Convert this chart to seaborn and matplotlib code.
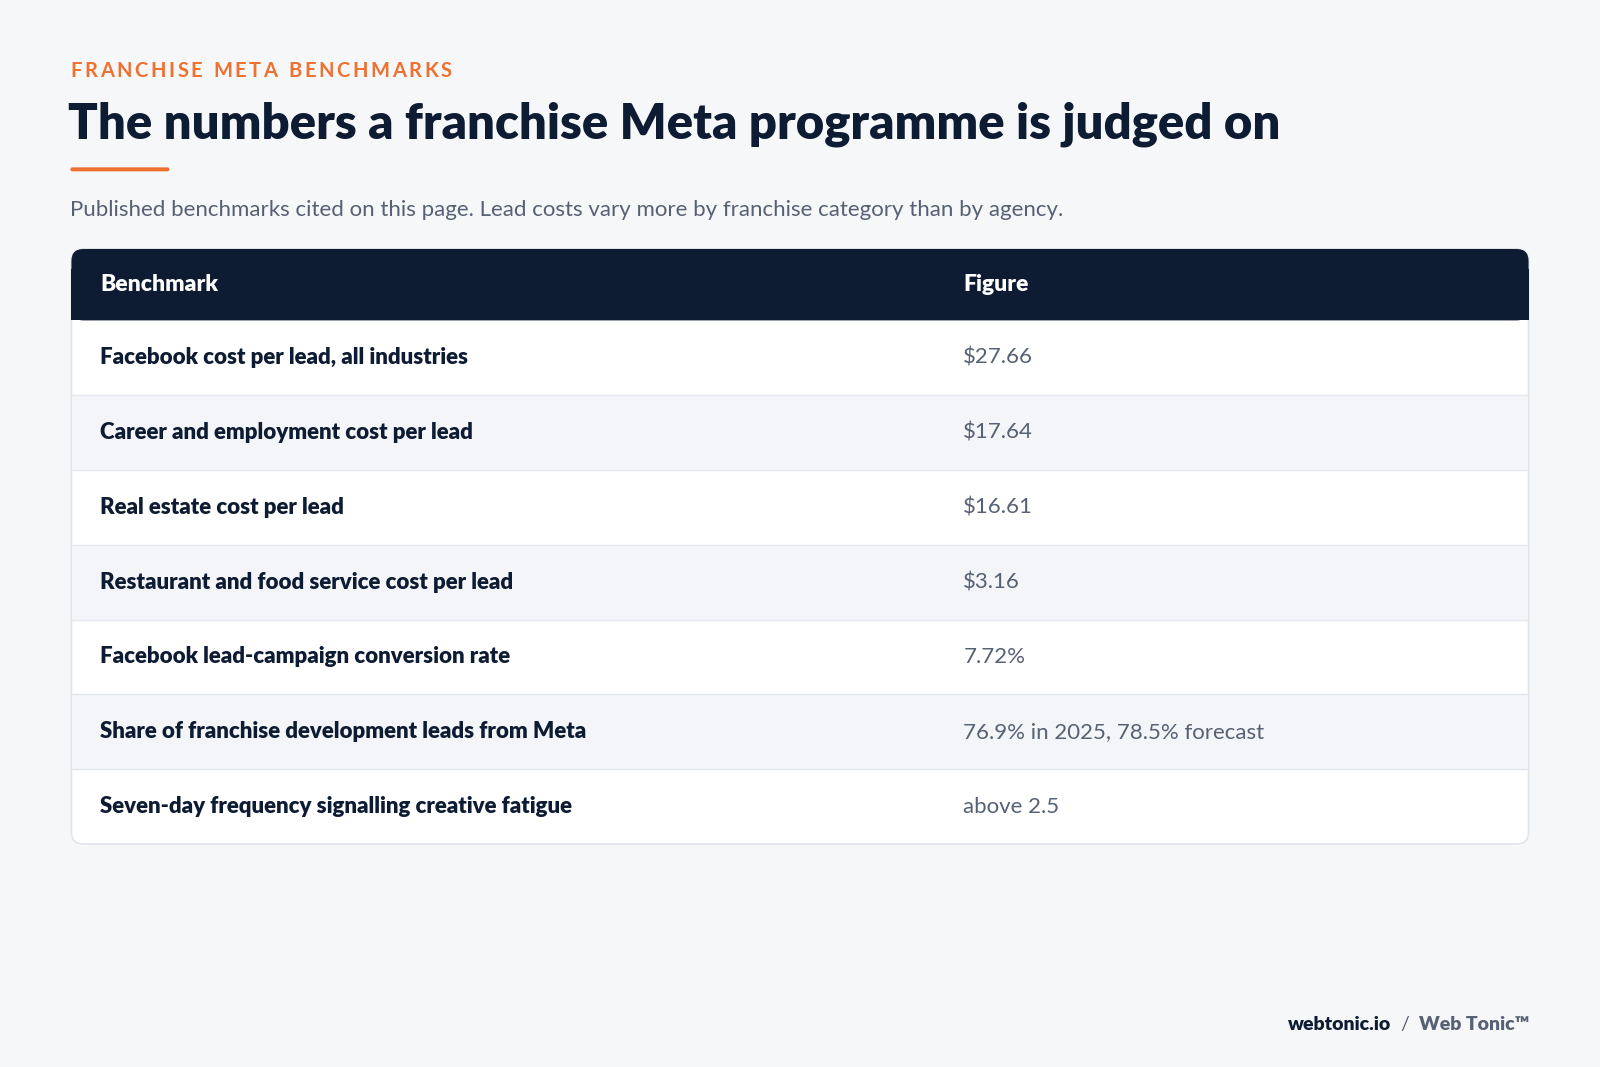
import matplotlib
matplotlib.use("Agg")
import matplotlib.pyplot as plt
import seaborn as sns
from matplotlib.patches import FancyBboxPatch, Rectangle

sns.set_theme(style="white")
plt.rcParams['font.family'] = ['Lato', 'DejaVu Sans']

kicker = "FRANCHISE META BENCHMARKS"
title = "The numbers a franchise Meta programme is judged on"
subtitle = "Published benchmarks cited on this page. Lead costs vary more by franchise category than by agency."
columns = ["Benchmark", "Figure"]
benchmarks = [
    "Facebook cost per lead, all industries",
    "Career and employment cost per lead",
    "Real estate cost per lead",
    "Restaurant and food service cost per lead",
    "Facebook lead-campaign conversion rate",
    "Share of franchise development leads from Meta",
    "Seven-day frequency signalling creative fatigue",
]
figures = ["$27.66", "$17.64", "$16.61", "$3.16", "7.72%", "76.9% in 2025, 78.5% forecast", "above 2.5"]

bg = "#f6f7f9"
navy = "#0d1b33"
orange = "#f07030"
grey = "#566173"
s = 1600 / 1568  # layout measured on a scaled view

fig = plt.figure(figsize=(16, 10.67), dpi=100, facecolor=bg)
ax = fig.add_axes([0, 0, 1, 1])
ax.set_xlim(0, 1600)
ax.set_ylim(1067, 0)
ax.axis("off")
ax.set_facecolor(bg)

# kicker with letter spacing
renderer = fig.canvas.get_renderer()
inv = ax.transData.inverted()
x = 69 * s
for ch in kicker:
    t = ax.text(x, 70 * s, ch, color=orange, fontsize=14.5, fontweight="bold", va="center")
    bb = t.get_window_extent(renderer)
    w = inv.transform((bb.x1, 0))[0] - inv.transform((bb.x0, 0))[0]
    if ch == " ":
        w = 5.5
    x += w + 2.6

ax.text(67 * s, 122 * s, title, color=navy, fontsize=35.3, fontweight="heavy", va="center")
ax.add_patch(FancyBboxPatch((69 * s, 164 * s), 97 * s, 4, boxstyle="round,pad=0,rounding_size=2",
                            color=orange, lw=0))
ax.text(69 * s, 206 * s, subtitle, color=grey, fontsize=16, va="center")

left, right = 70 * s, 1498 * s
top, head_h = 244 * s, 70 * s
row_h = 73.3 * s
n = len(benchmarks)
bottom = top + head_h + n * row_h

ax.add_patch(FancyBboxPatch((left, top), right - left, bottom - top,
                            boxstyle="round,pad=0,rounding_size=12",
                            facecolor="white", edgecolor="#e2e6ec", lw=1.2, zorder=1))
ax.add_patch(FancyBboxPatch((left, top), right - left, head_h,
                            boxstyle="round,pad=0,rounding_size=12",
                            facecolor=navy, lw=0, zorder=2))
ax.add_patch(Rectangle((left, top + 20), right - left, head_h - 20, facecolor=navy, lw=0, zorder=2))
ax.text(98 * s, top + head_h / 2, columns[0], color="white", fontsize=16.5, fontweight="heavy", va="center", zorder=3)
ax.text(944 * s, top + head_h / 2, columns[1], color="white", fontsize=16.5, fontweight="heavy", va="center", zorder=3)

for i, (b, f) in enumerate(zip(benchmarks, figures)):
    y0 = top + head_h + i * row_h
    if i % 2 == 1:
        ax.add_patch(Rectangle((left + 1, y0), right - left - 2, row_h, facecolor="#f3f5f8", lw=0, zorder=2))
    if i > 0:
        ax.plot([left + 1, right - 1], [y0, y0], color="#e4e8ee", lw=1, zorder=3)
    ax.text(98 * s, y0 + row_h / 2, b, color=navy, fontsize=16, fontweight="heavy", va="center", zorder=4)
    ax.text(944 * s, y0 + row_h / 2, f, color=grey, fontsize=16, va="center", zorder=4)

ax.text(1363 * s, 1004 * s, "webtonic.io", color=navy, fontsize=14, fontweight="heavy", ha="right", va="center")
ax.text(1377 * s, 1004 * s, "/", color=grey, fontsize=14, ha="center", va="center")
ax.text(1391 * s, 1004 * s, "Web Tonic\u2122", color=grey, fontsize=14, fontweight="heavy", ha="left", va="center")

fig.savefig("out.png", dpi=100, facecolor=bg)
